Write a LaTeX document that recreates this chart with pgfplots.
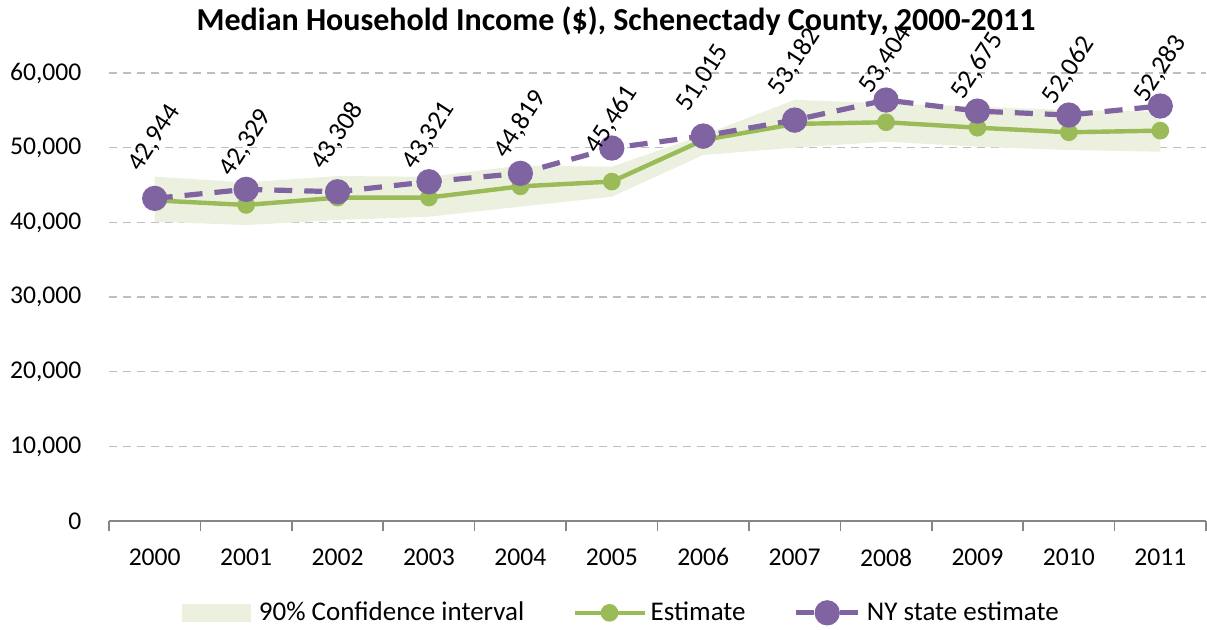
\documentclass[border=0pt]{standalone}
\usepackage{fontspec}
\setmainfont{Carlito}
\usepackage{pgfplots}
\pgfplotsset{compat=1.18}
\usepgfplotslibrary{fillbetween}
\definecolor{cgreen}{HTML}{9BBB59}
\definecolor{cpurple}{HTML}{8064A2}
\definecolor{cband}{HTML}{EBF1DE}
\definecolor{cgrid}{HTML}{BFBFBF}
\definecolor{caxis}{HTML}{868686}
\begin{document}
\begin{tikzpicture}
\node[font=\fontsize{16}{18}\selectfont\bfseries] at (308pt,304pt) {Median Household Income (\$), Schenectady County, 2000-2011};
\begin{axis}[
  at={(54.5pt,54pt)}, anchor=south west,
  scale only axis, width=548.5pt, height=224pt,
  xmin=-0.5, xmax=11.5, ymin=0, ymax=60000,
  axis lines*=left,
  x axis line style={draw=caxis, line width=0.8pt},
  y axis line style={draw=none},
  xtick={0,1,2,3,4,5,6,7,8,9,10,11},
  xticklabels={2000,2001,2002,2003,2004,2005,2006,2007,2008,2009,2010,2011},
  major x tick style={draw=none},
  minor xtick={-0.5,0.5,1.5,2.5,3.5,4.5,5.5,6.5,7.5,8.5,9.5,10.5,11.5},
  minor x tick style={draw=caxis, line width=0.8pt},
  minor tick length=5pt,
  tick align=outside,
  ytick={0,10000,20000,30000,40000,50000,60000},
  ytick style={draw=none},
  scaled y ticks=false,
  ymajorgrids,
  grid style={draw=cgrid, line width=0.75pt, dash pattern=on 4pt off 3pt},
  /pgf/number format/.cd, 1000 sep={,}, assume math mode=true, /pgfplots/.cd,
  tick label style={font=\fontsize{12.8}{15}\selectfont},
  yticklabel style={xshift=-6pt},
  xticklabel style={yshift=-6pt},
  clip=false,
  legend style={at={(axis description cs:0.468,-0.205)}, anchor=center, draw=none, fill=none,
    font=\fontsize{13.5}{15}\selectfont, legend columns=3,
    /tikz/every even column/.append style={column sep=22pt},
    /tikz/every odd column/.append style={column sep=0pt}},
]
\addplot[name path=U, draw=none, forget plot] coordinates {
(0,46110) (1,45350) (2,46200) (3,46110) (4,47600) (5,47450) (6,51700) (7,56400) (8,55940) (9,55490) (10,55040) (11,54810)};
\addplot[name path=L, draw=none, forget plot] coordinates {
(0,40090) (1,39640) (2,40310) (3,40760) (4,42100) (5,43430) (6,49020) (7,50000) (8,50800) (9,50130) (10,49690) (11,49460)};
\addplot[cband, legend image code/.code={\fill[cband] (0pt,-4.2pt) rectangle (34pt,4.2pt);}] fill between[of=U and L];
\addlegendentry{\hspace{2pt}90\% Confidence interval}
\addplot[cgreen, line width=2.2pt, mark=*, mark size=3.3pt, mark options={solid, fill=cgreen, draw=cgreen},
  legend image code/.code={\draw[cgreen, solid, line width=2.2pt] (0pt,0pt) -- (35pt,0pt); \fill[cgreen] (17.5pt,0pt) circle (3.3pt);}] coordinates {
(0,42944) (1,42329) (2,43308) (3,43321) (4,44819) (5,45461) (6,51015) (7,53182) (8,53404) (9,52675) (10,52062) (11,52283)};
\addlegendentry{Estimate}
\addplot[cpurple, line width=2.6pt, dash pattern=on 9pt off 6pt, mark=*, mark size=5pt, mark options={solid, fill=cpurple, draw=cpurple},
  legend image code/.code={\draw[cpurple, solid, line width=2.6pt] (0pt,0pt) -- (9pt,0pt); \draw[cpurple, solid, line width=2.6pt] (22pt,0pt) -- (31pt,0pt); \fill[cpurple, solid] (15.5pt,0pt) circle (5pt);}] coordinates {
(0,43210) (1,44420) (2,44100) (3,45440) (4,46560) (5,49950) (6,51560) (7,53700) (8,56380) (9,54900) (10,54370) (11,55580)};
\addlegendentry{\hspace{1pt}NY state estimate}
\addplot[draw=none, mark=none, forget plot, nodes near coords,
  every node near coord/.append style={anchor=center, yshift=31pt, rotate=57, font=\fontsize{13.2}{15}\selectfont, text=black}] coordinates {
(0,42944) (1,42329) (2,43308) (3,43321) (4,44819) (5,45461) (6,51015) (7,53182) (8,53404) (9,52675) (10,52062) (11,52283)};
\end{axis}
\pgfresetboundingbox
\useasboundingbox (0,0) rectangle (603.5pt,314.5pt);
\end{tikzpicture}
\end{document}
